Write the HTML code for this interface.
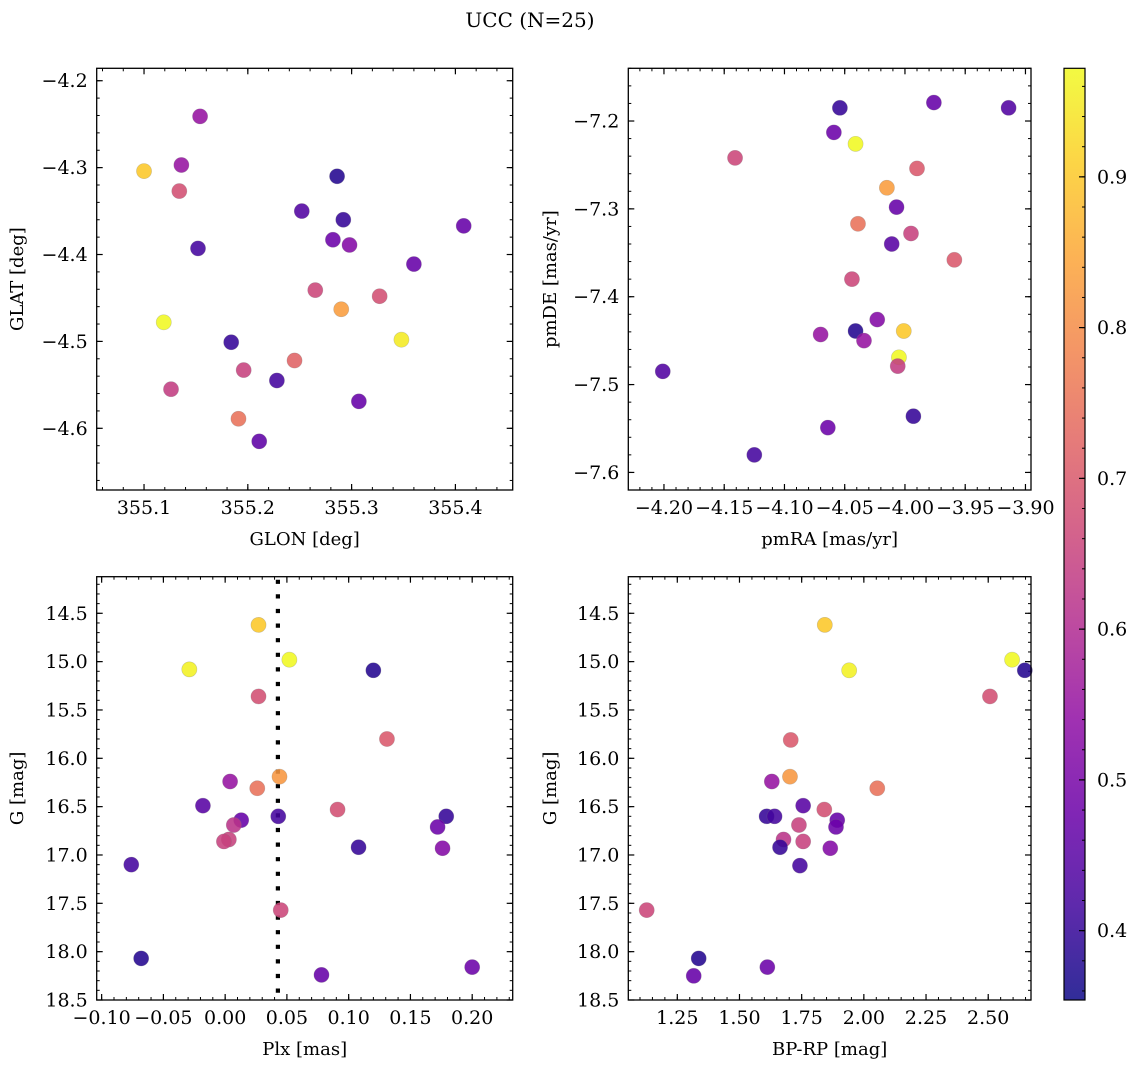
<!DOCTYPE html>
<html><head><meta charset="utf-8"><style>
html,body{margin:0;padding:0;background:#fff}
svg{display:block;font-family:"DejaVu Serif","Liberation Serif",serif}
</style></head><body>
<svg id="fig" width="1136" height="1067" viewBox="0 0 1136 1067" xmlns="http://www.w3.org/2000/svg">
<text x="530" y="27" font-size="20" text-anchor="middle">UCC (N=25)</text>
<defs><linearGradient id="cbgrad" x1="0" y1="1" x2="0" y2="0"></linearGradient></defs>
</svg>
<script>
// ---- data ----
const glon = [355.154,355.100,355.136,355.134,355.286,355.252,355.292,355.408,355.152,355.282,355.298,355.360,355.265,355.327,355.290,355.119,355.348,355.184,355.245,355.196,355.228,355.126,355.307,355.191,355.211];
const glat = [-4.241,-4.304,-4.297,-4.327,-4.310,-4.350,-4.360,-4.367,-4.393,-4.383,-4.389,-4.411,-4.441,-4.448,-4.463,-4.478,-4.498,-4.501,-4.522,-4.533,-4.545,-4.555,-4.569,-4.589,-4.615];
const probP1 = [0.55,0.90,0.55,0.68,0.38,0.44,0.40,0.47,0.42,0.48,0.52,0.47,0.66,0.68,0.83,0.97,0.95,0.40,0.72,0.65,0.42,0.64,0.47,0.75,0.46];

const pmra = [-4.054,-3.976,-3.914,-4.059,-4.041,-4.141,-3.990,-4.015,-4.007,-4.039,-3.995,-4.011,-3.959,-4.044,-4.023,-4.070,-4.041,-4.034,-4.001,-4.005,-4.006,-4.201,-3.993,-4.064,-4.125];
const pmde = [-7.185,-7.179,-7.185,-7.213,-7.226,-7.242,-7.254,-7.276,-7.298,-7.317,-7.328,-7.340,-7.358,-7.380,-7.426,-7.443,-7.439,-7.450,-7.439,-7.469,-7.479,-7.485,-7.536,-7.549,-7.580];
const probP2 = [0.40,0.47,0.44,0.48,0.97,0.66,0.70,0.83,0.47,0.75,0.65,0.45,0.70,0.66,0.52,0.55,0.38,0.55,0.90,0.97,0.64,0.44,0.40,0.48,0.42];

const plx = [0.027,0.052,-0.029,0.120,0.027,0.131,0.044,0.004,0.026,-0.018,0.091,0.043,0.179,0.013,0.007,0.172,0.003,-0.001,0.108,0.176,-0.076,0.045,-0.068,0.200,0.078];
const gmagP3 = [14.62,14.98,15.08,15.09,15.36,15.80,16.19,16.24,16.31,16.49,16.53,16.60,16.60,16.64,16.69,16.71,16.84,16.86,16.92,16.93,17.10,17.57,18.07,18.16,18.24];
const probP3 = [0.90,0.97,0.96,0.38,0.68,0.70,0.82,0.55,0.75,0.45,0.68,0.42,0.40,0.47,0.62,0.48,0.65,0.65,0.40,0.52,0.42,0.66,0.38,0.48,0.47];
const plxMedian = [0.0427];

const bprp = [1.843,1.941,2.596,2.647,2.507,1.706,1.703,1.630,2.054,1.756,1.841,1.609,1.641,1.893,1.739,1.888,1.677,1.756,1.663,1.865,1.743,1.127,1.336,1.612,1.316];
const gmagP4 = [14.62,15.09,14.98,15.09,15.36,15.81,16.19,16.24,16.31,16.49,16.53,16.60,16.60,16.64,16.69,16.71,16.84,16.86,16.92,16.93,17.11,17.57,18.07,18.16,18.25];
const probP4 = [0.90,0.96,0.97,0.38,0.68,0.70,0.82,0.55,0.75,0.45,0.68,0.40,0.42,0.47,0.65,0.48,0.62,0.65,0.40,0.52,0.42,0.66,0.38,0.48,0.47];

const ticksP1x = [355.1,355.2,355.3,355.4];
const ticksP1y = [-4.2,-4.3,-4.4,-4.5,-4.6];
const ticksP2x = [-4.20,-4.15,-4.10,-4.05,-4.00,-3.95,-3.90];
const ticksP2y = [-7.2,-7.3,-7.4,-7.5,-7.6];
const ticksGx = [-0.10,-0.05,0.00,0.05,0.10,0.15,0.20];
const ticksGy = [14.5,15.0,15.5,16.0,16.5,17.0,17.5,18.0,18.5];
const ticksCx = [1.25,1.50,1.75,2.00,2.25,2.50];
const ticksCb = [0.4,0.5,0.6,0.7,0.8,0.9];

const VMIN = 0.354, VMAX = 0.972;
const NS = "http://www.w3.org/2000/svg";
const svg = document.getElementById('fig');
function mk(tag, attrs, parent){const e=document.createElementNS(NS,tag);for(const k in attrs)e.setAttribute(k,attrs[k]);(parent||svg).appendChild(e);return e;}

const plasma=[[13,8,135],[65,4,157],[106,0,168],[143,13,164],[177,42,144],[204,71,120],[225,100,98],[242,132,75],[252,166,54],[252,206,37],[240,249,33]];
function cmap(v){let t=(v-VMIN)/(VMAX-VMIN);t=Math.max(0,Math.min(1,t));const f=t*10,i=Math.min(9,Math.floor(f)),r=f-i;const a=plasma[i],b=plasma[i+1];return `rgb(${Math.round(a[0]+(b[0]-a[0])*r)},${Math.round(a[1]+(b[1]-a[1])*r)},${Math.round(a[2]+(b[2]-a[2])*r)})`;}
function fmt(v,d){const s=Math.abs(v).toFixed(d);return (v<-1e-9?'\u2212':'')+s;}
const FS=19;

function panel(p){
  const g=mk('g',{});
  
  
  const X=v=>p.L+(v-p.x0)/(p.x1-p.x0)*(p.R-p.L);
  const Y=v=>p.T+(v-p.y0)/(p.y1-p.y0)*(p.B-p.T);
  const lo=Math.min(p.x0,p.x1),hi=Math.max(p.x0,p.x1);
  for(let v=Math.ceil(lo/p.xm-1e-6)*p.xm;v<=hi+1e-9;v+=p.xm){const x=X(v);mk('line',{x1:x,x2:x,y1:p.B,y2:p.B-3,stroke:'#000','stroke-width':1},g);mk('line',{x1:x,x2:x,y1:p.T,y2:p.T+3,stroke:'#000','stroke-width':1},g);}
  const ylo=Math.min(p.y0,p.y1),yhi=Math.max(p.y0,p.y1);
  for(let v=Math.ceil(ylo/p.ym-1e-6)*p.ym;v<=yhi+1e-9;v+=p.ym){const y=Y(v);mk('line',{x1:p.L,x2:p.L+3,y1:y,y2:y,stroke:'#000','stroke-width':1},g);mk('line',{x1:p.R,x2:p.R-3,y1:y,y2:y,stroke:'#000','stroke-width':1},g);}
  p.xt.forEach(v=>{const x=X(v);
    mk('line',{x1:x,x2:x,y1:p.B,y2:p.B-6,stroke:'#000','stroke-width':1.2},g);mk('line',{x1:x,x2:x,y1:p.T,y2:p.T+6,stroke:'#000','stroke-width':1.2},g);
    const t=mk('text',{x:x,y:p.B+24,'font-size':FS,'text-anchor':'middle'},g);t.textContent=fmt(v,p.xd);
    
    });
  p.yt.forEach(v=>{const y=Y(v);
    mk('line',{x1:p.L,x2:p.L+6,y1:y,y2:y,stroke:'#000','stroke-width':1.2},g);mk('line',{x1:p.R,x2:p.R-6,y1:y,y2:y,stroke:'#000','stroke-width':1.2},g);
    const t=mk('text',{x:p.L-9,y:y+6.5,'font-size':FS,'text-anchor':'end'},g);t.textContent=fmt(v,1);
    
    });
  if(p.vline){p.vline.forEach(v=>{const l=mk('line',{x1:X(v),x2:X(v),y1:p.T+3,y2:p.B,stroke:'#000','stroke-width':4.2,'stroke-dasharray':'4.2 10.4'},g);
    
    });}
  p.xs.forEach((v,i)=>{const c=mk('circle',{cx:X(v),cy:Y(p.ys[i]),r:7.6,fill:cmap(p.cs[i]),'fill-opacity':0.88,stroke:'#777','stroke-opacity':0.35,'stroke-width':0.6},g);
    
    });
  const fr=mk('rect',{x:p.L,y:p.T,width:p.R-p.L,height:p.B-p.T,fill:'none',stroke:'#000','stroke-width':1.3},g);
  
  
  const xl=mk('text',{x:(p.L+p.R)/2,y:p.B+55,'font-size':FS-1,'text-anchor':'middle'},g);xl.textContent=p.xlab;
  
  
  const cy=(p.T+p.B)/2;const yl=mk('text',{x:p.ylx,y:cy,'font-size':FS-1,'text-anchor':'middle',transform:`rotate(-90 ${p.ylx} ${cy})`},g);yl.textContent=p.ylab;
  
  
}

panel({name:'glon-glat-panel',L:96.7,R:512.7,T:68.3,B:490,x0:355.0544,x1:355.4552,y0:-4.1857,y1:-4.671,xm:0.02,ym:0.02,xt:ticksP1x,yt:ticksP1y,xd:1,xs:glon,ys:glat,cs:probP1,xlab:'GLON [deg]',ylab:'GLAT [deg]',ylx:23});
panel({name:'pm-panel',L:628.3,R:1031,T:68.3,B:490,x0:-4.2296,x1:-3.8954,y0:-7.140,y1:-7.620,xm:0.01,ym:0.02,xt:ticksP2x,yt:ticksP2y,xd:2,xs:pmra,ys:pmde,cs:probP2,xlab:'pmRA [mas/yr]',ylab:'pmDE [mas/yr]',ylx:556});
panel({name:'plx-g-panel',L:96.7,R:512.7,T:576.7,B:1000,x0:-0.104,x1:0.2328,y0:14.1215,y1:18.5,xm:0.01,ym:0.1,xt:ticksGx,yt:ticksGy,xd:2,xs:plx,ys:gmagP3,cs:probP3,xlab:'Plx [mas]',ylab:'G [mag]',ylx:23,vline:plxMedian});
panel({name:'cmd-panel',L:628.3,R:1031,T:576.7,B:1000,x0:1.053,x1:2.672,y0:14.1215,y1:18.5,xm:0.05,ym:0.1,xt:ticksCx,yt:ticksGy,xd:2,xs:bprp,ys:gmagP4,cs:probP4,xlab:'BP-RP [mag]',ylab:'G [mag]',ylx:556});

// colorbar
const grad=document.getElementById('cbgrad');
for(let i=0;i<=20;i++){const v=VMIN+(VMAX-VMIN)*i/20;mk('stop',{offset:(i/20),'stop-color':cmap(v),'stop-opacity':0.85},grad);}
const CT=68.3,CB=1000,CL=1064,CR=1085;
const CY=v=>CB-(v-VMIN)/(VMAX-VMIN)*(CB-CT);
const cb=mk('rect',{x:CL,y:CT,width:CR-CL,height:CB-CT,fill:'url(#cbgrad)',stroke:'#000','stroke-width':1.2});


for(let v=0.36;v<VMAX;v+=0.02){const y=CY(v);mk('line',{x1:CR,x2:CR-3,y1:y,y2:y,stroke:'#000','stroke-width':1});}
ticksCb.forEach(v=>{const y=CY(v);mk('line',{x1:CR,x2:CR-6,y1:y,y2:y,stroke:'#000','stroke-width':1.2});
  const t=mk('text',{x:CR+12,y:y+6.5,'font-size':FS},svg);t.textContent=v.toFixed(1);
  
  });
</script>
</body></html>
